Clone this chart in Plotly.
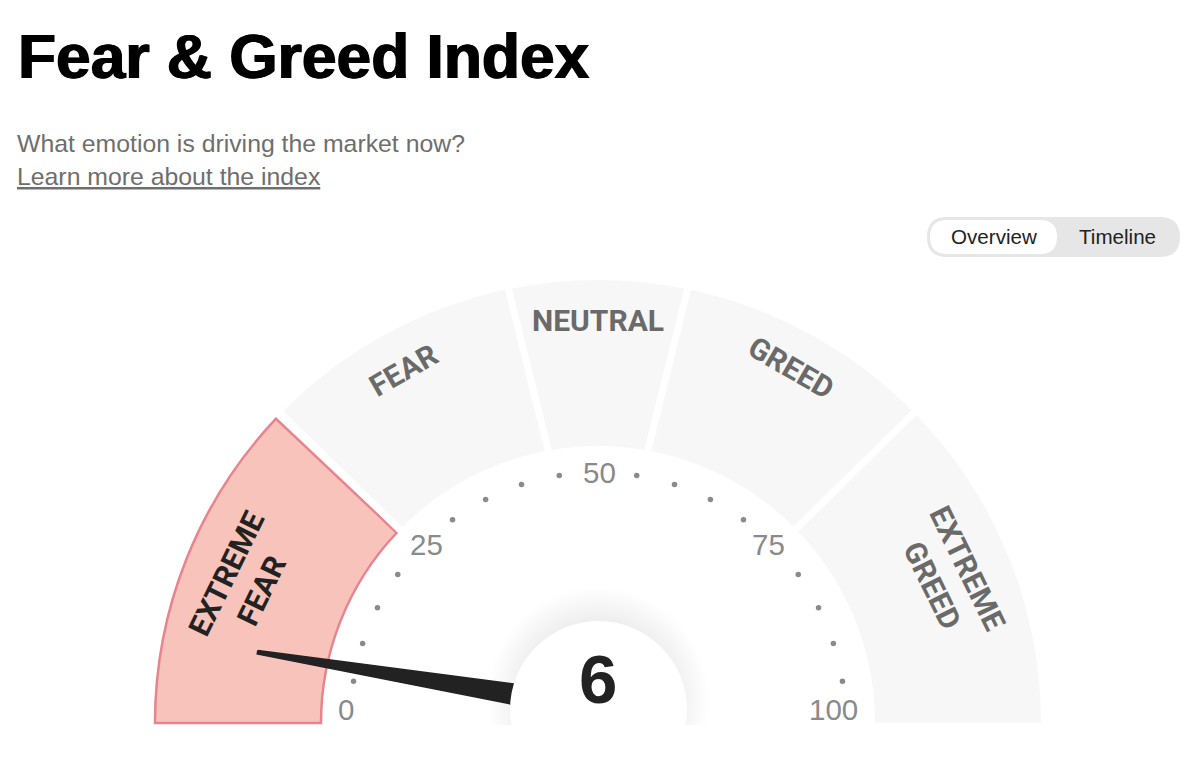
import math
import plotly.graph_objects as go

# Fear & Greed gauge
W, H = 1200, 766

# data
index_value = 6
band_names = ["EXTREME<br>FEAR", "FEAR", "NEUTRAL", "GREED", "EXTREME<br>GREED"]
band_start = [0, 24.6, 43.5, 56.5, 75.3]
band_end = [24.1, 43.5, 56.5, 75.3, 100]
sep_inner = [24.6, 44.3, 55.7, 75.3]
sep_outer = [24.6, 43.5, 56.5, 75.3]
tick_labels = ["0", "25", "50", "75", "100"]
tick_dots = [5, 10, 15, 20, 30, 35, 40, 45, 55, 60, 65, 70, 80, 85, 90, 95]

# gauge geometry, pixels
CX, CY = 598, 723
R_OUT, R_IN = 443, 277
R_MAX = 450
DOT_CY, R_DOTS = 720, 247.5
DEG = 1.8  # degrees per index point
OVER = 2  # sector runs a bit below the base line so the outline is not cut

GREY = "#f7f7f7"
PINK = "#f8c3bb"
PINK_LINE = "#e9838e"
DARK = "#222222"
LABEL = "#6a6a6a"
TICK = "#8a8a8a"


def fx(x):
    return x / W


def fy(y):
    return 1 - y / H


def to_polar(x, y):
    dx, dy = CX - x, CY - y
    return math.hypot(dx, dy), math.degrees(math.atan2(dy, dx))


def pill(x0, y0, x1, y1, rad):
    p = [
        (x0 + rad, y0), (x1 - rad, y0), (x1, y0), (x1, y0 + rad), (x1, y1 - rad),
        (x1, y1), (x1 - rad, y1), (x0 + rad, y1), (x0, y1), (x0, y1 - rad),
        (x0, y0 + rad), (x0, y0), (x0 + rad, y0),
    ]
    f = [(fx(a), fy(b)) for a, b in p]
    return (
        f"M{f[0][0]},{f[0][1]} L{f[1][0]},{f[1][1]} Q{f[2][0]},{f[2][1]} {f[3][0]},{f[3][1]} "
        f"L{f[4][0]},{f[4][1]} Q{f[5][0]},{f[5][1]} {f[6][0]},{f[6][1]} "
        f"L{f[7][0]},{f[7][1]} Q{f[8][0]},{f[8][1]} {f[9][0]},{f[9][1]} "
        f"L{f[10][0]},{f[10][1]} Q{f[11][0]},{f[11][1]} {f[12][0]},{f[12][1]} Z"
    )


def circle(x, y, rad, color, layer):
    return dict(
        type="circle", xref="paper", yref="paper", layer=layer,
        x0=fx(x - rad), x1=fx(x + rad), y0=fy(y + rad), y1=fy(y - rad),
        fillcolor=color, line_width=0,
    )


fig = go.Figure()

# grey bands
fig.add_trace(go.Barpolar(
    theta=[(a + b) / 2 * DEG for a, b in zip(band_start[1:], band_end[1:])],
    width=[(b - a) * DEG for a, b in zip(band_start[1:], band_end[1:])],
    r=[R_OUT - R_IN] * 4,
    base=[R_IN] * 4,
    marker=dict(color=GREY, line=dict(width=0)),
))

# white gaps between the bands
for s_in, s_out in zip(sep_inner, sep_outer):
    fig.add_trace(go.Scatterpolar(
        r=[R_IN - 6, R_OUT + 6], theta=[s_in * DEG, s_out * DEG], mode="lines",
        line=dict(color="white", width=7),
    ))

# active band
fig.add_trace(go.Barpolar(
    theta=[(band_start[0] + band_end[0]) / 2 * DEG],
    width=[(band_end[0] - band_start[0]) * DEG],
    r=[R_OUT - R_IN],
    base=[R_IN],
    marker=dict(color=PINK, line=dict(color=PINK_LINE, width=2.5)),
))

# dots, their ring sits slightly higher than the bands
dots = [
    to_polar(CX - R_DOTS * math.cos(math.radians(v * DEG)), DOT_CY - R_DOTS * math.sin(math.radians(v * DEG)))
    for v in tick_dots
]
fig.add_trace(go.Scatterpolar(
    r=[p[0] for p in dots], theta=[p[1] for p in dots], mode="markers",
    marker=dict(color=TICK, size=5.5),
))

# needle, pivot sits a little above the base line of the gauge
pivot_x, pivot_y = 598, 708
a = math.radians(index_value * DEG - 1.5)
ux, uy = -math.cos(a), -math.sin(a)
nx, ny = -uy, ux
needle = []
for dist, half, side in [(345, 1.8, 1), (345, 1.8, -1), (70, 10.6, -1), (70, 10.6, 1)]:
    needle.append(to_polar(pivot_x + ux * dist + nx * half * side, pivot_y + uy * dist + ny * half * side))
needle.append(needle[0])
fig.add_trace(go.Scatterpolar(
    r=[p[0] for p in needle], theta=[p[1] for p in needle], mode="lines",
    fill="toself", fillcolor=DARK, line=dict(color=DARK, width=1.5),
))

shapes = []

# soft glow round the hub
for i in range(16):
    shapes.append(circle(598, 698, 110 - i * 2, "rgba(120,120,120,0.008)", "below"))
shapes.append(dict(
    type="rect", xref="paper", yref="paper", layer="below",
    x0=0, x1=1, y0=0, y1=fy(725), fillcolor="white", line_width=0,
))
shapes.append(circle(598.5, 709.5, 88.5, "white", "above"))

# Overview / Timeline switch
shapes.append(dict(type="path", xref="paper", yref="paper", path=pill(927, 217, 1180, 257, 20),
                   fillcolor="#e6e6e6", line_width=0, layer="below"))
shapes.append(dict(type="path", xref="paper", yref="paper", path=pill(930, 220, 1057, 254, 17),
                   fillcolor="white", line_width=0, layer="below"))

annotations = []


def add_text(text, x, y, size, color, family="Liberation Sans", anchor="center", angle=0, shadow=None):
    font = dict(family=family, size=size, color=color)
    if shadow:
        font["shadow"] = shadow
    annotations.append(dict(
        text=text, x=fx(x), y=fy(y), xref="paper", yref="paper", showarrow=False,
        xanchor=anchor, yanchor="middle", textangle=angle, align="center",
        font=font,
    ))


add_text("<b>Fear &amp; Greed Index</b>", 16, 56, 62.3, "#000000", anchor="left",
         shadow="0.8px 0 0 #000, -0.8px 0 0 #000")
add_text("What emotion is driving the market now?", 15, 143, 24.8, "#6e6e6e", anchor="left")
add_text("<u>Learn more about the index</u>", 15, 176, 24.8, "#6e6e6e", anchor="left")
add_text("Overview", 994, 236, 20.6, DARK)
add_text("Timeline", 1117, 236, 20.6, DARK)

# band names
NARROW = "Roboto"
band_text = [(244, 582, -64, DARK), (403, 370, -30, LABEL), (598, 321, 0, LABEL),
             (791, 367, 30, LABEL), (950, 577, 64, LABEL)]
for name, (x, y, ang, col) in zip(band_names, band_text):
    add_text(f"<b>{name}</b>", x, y, 30, col, family=NARROW, angle=ang)

# tick numbers
tick_pos = [(346, 709), (426, 544), (599, 472), (768, 544), (833, 709)]
for lab, (x, y) in zip(tick_labels, tick_pos):
    add_text(lab, x, y, 29.5, TICK)

# value in the hub
add_text(f"<b>{index_value}</b>", 598, 679, 69, DARK)

fig.update_layout(
    width=W, height=H,
    margin=dict(l=0, r=0, t=0, b=0),
    paper_bgcolor="white",
    plot_bgcolor="white",
    showlegend=False,
    polar=dict(
        domain=dict(
            x=[fx(CX - R_MAX), fx(CX + R_MAX)],
            y=[fy(CY + R_MAX * math.sin(math.radians(OVER))), fy(CY - R_MAX)],
        ),
        sector=[-OVER, 180 + OVER],
        bgcolor="rgba(0,0,0,0)",
        radialaxis=dict(range=[0, R_MAX], visible=False),
        angularaxis=dict(visible=False, rotation=180, direction="clockwise"),
    ),
    shapes=shapes,
    annotations=annotations,
)

fig.write_html("out.html", config={"displayModeBar": False}, post_script="document.body.style.margin='0';")
